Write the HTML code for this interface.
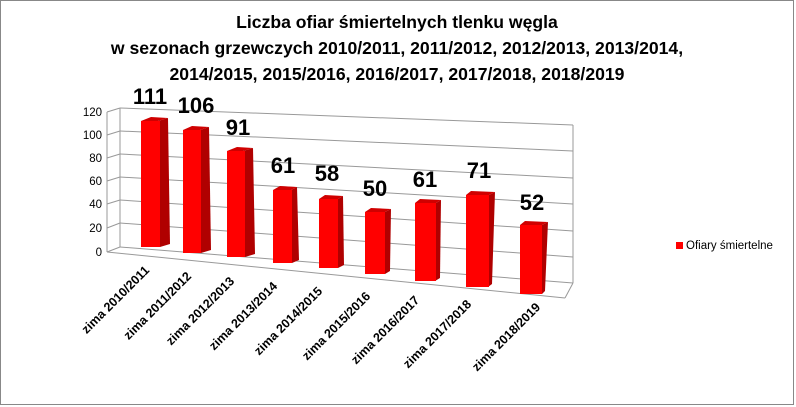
<!DOCTYPE html>
<html><head><meta charset="utf-8"><style>
html,body{margin:0;padding:0;background:#fff}
svg{display:block}
text{font-family:"Liberation Sans",sans-serif}
</style></head><body>
<svg width="796" height="407" viewBox="0 0 796 407">
<rect x="0.5" y="0.5" width="793" height="404" fill="#fff" stroke="#888"/>
<g font-weight="bold" font-size="17.6" text-anchor="middle" fill="#000">
<text x="397" y="28">Liczba ofiar śmiertelnych tlenku węgla</text>
<text x="397" y="54">w sezonach grzewczych 2010/2011, 2011/2012, 2012/2013, 2013/2014,</text>
<text x="397" y="80">2014/2015, 2015/2016, 2016/2017, 2017/2018, 2018/2019</text>
</g>
<g stroke="#999" stroke-width="1" fill="none">
<line x1="120" y1="108" x2="573" y2="125"/>
<line x1="120" y1="131" x2="573" y2="151"/>
<line x1="120" y1="154" x2="573" y2="178"/>
<line x1="120" y1="177" x2="573" y2="204"/>
<line x1="120" y1="200" x2="573" y2="231"/>
<line x1="120" y1="223" x2="573" y2="257"/>
<line x1="120" y1="247" x2="573" y2="283"/>
<line x1="120" y1="108" x2="120" y2="247"/>
<line x1="573" y1="125" x2="573" y2="283"/>
<line x1="107" y1="112" x2="107" y2="252"/>
<line x1="107" y1="252" x2="565" y2="298"/>
<line x1="573" y1="283" x2="565" y2="298"/>
<line x1="107" y1="252" x2="120" y2="247"/>
<line x1="107" y1="112" x2="120" y2="108"/>
<line x1="107" y1="135" x2="120" y2="131"/>
<line x1="107" y1="158" x2="120" y2="154"/>
<line x1="107" y1="181" x2="120" y2="177"/>
<line x1="107" y1="204" x2="120" y2="200"/>
<line x1="107" y1="228" x2="120" y2="223"/>
</g>
<g font-size="11.5" fill="#000" text-anchor="end">
<text x="102" y="116">120</text><text x="102" y="139">100</text><text x="102" y="162">80</text>
<text x="102" y="185">60</text><text x="102" y="208">40</text><text x="102" y="232">20</text><text x="102" y="256">0</text>
</g>
<g>
<polygon points="158,121 168,118 170,244 160,247" fill="#b00000"/><polygon points="141,121 158,121 168,118 151,117" fill="#d00000"/><rect x="141" y="121" width="19" height="126" fill="#f00"/>
<polygon points="200,130 209,127 211,250 201,253" fill="#b00000"/><polygon points="183,130 200,130 209,127 192,126" fill="#d00000"/><rect x="183" y="130" width="18" height="123" fill="#f00"/>
<polygon points="243,151 253,148 255,254 245,257" fill="#b00000"/><polygon points="227,151 243,151 253,148 237,147" fill="#d00000"/><rect x="227" y="151" width="18" height="106" fill="#f00"/>
<polygon points="291,190 297,187 299,260 292,263" fill="#b00000"/><polygon points="273,190 291,190 297,187 280,186" fill="#d00000"/><rect x="273" y="190" width="19" height="73" fill="#f00"/>
<polygon points="338,199 343,196 344,265 338,268" fill="#b00000"/><polygon points="319,199 338,199 343,196 325,195" fill="#d00000"/><rect x="319" y="199" width="19" height="69" fill="#f00"/>
<polygon points="385,212 391,209 390,271 385,274" fill="#b00000"/><polygon points="365,212 385,212 391,209 371,208" fill="#d00000"/><rect x="365" y="212" width="20" height="62" fill="#f00"/>
<polygon points="436,203 441,200 440,278 435,281" fill="#b00000"/><polygon points="415,203 436,203 441,200 420,199" fill="#d00000"/><rect x="415" y="203" width="21" height="78" fill="#f00"/>
<polygon points="489,195 495,192 492,284 488,287" fill="#b00000"/><polygon points="466,195 489,195 495,192 471,191" fill="#d00000"/><rect x="466" y="195" width="23" height="92" fill="#f00"/>
<polygon points="542,225 548,222 545,291 542,294" fill="#b00000"/><polygon points="520,225 542,225 548,222 525,221" fill="#d00000"/><rect x="520" y="225" width="22" height="69" fill="#f00"/>
</g>
<g font-weight="bold" font-size="22" text-anchor="middle" fill="#000">
<text x="150" y="104">111</text><text x="196" y="113">106</text><text x="238" y="135">91</text>
<text x="283" y="173">61</text><text x="327" y="181">58</text><text x="375" y="196">50</text>
<text x="425" y="187">61</text><text x="479" y="178">71</text><text x="532" y="210">52</text>
</g>
<g font-size="12.5" font-weight="bold" fill="#000" text-anchor="end">
<text transform="translate(150,271) rotate(-45)">zima 2010/2011</text>
<text transform="translate(192,277) rotate(-45)">zima 2011/2012</text>
<text transform="translate(235,282) rotate(-45)">zima 2012/2013</text>
<text transform="translate(278,287) rotate(-45)">zima 2013/2014</text>
<text transform="translate(323,292) rotate(-45)">zima 2014/2015</text>
<text transform="translate(371,297) rotate(-45)">zima 2015/2016</text>
<text transform="translate(420,301) rotate(-45)">zima 2016/2017</text>
<text transform="translate(472,305) rotate(-45)">zima 2017/2018</text>
<text transform="translate(541,308) rotate(-45)">zima 2018/2019</text>
</g>
<rect x="676" y="242" width="7" height="7" fill="#f00"/>
<text x="686" y="249" font-size="11.5" fill="#000">Ofiary śmiertelne</text>
</svg>
</body></html>
